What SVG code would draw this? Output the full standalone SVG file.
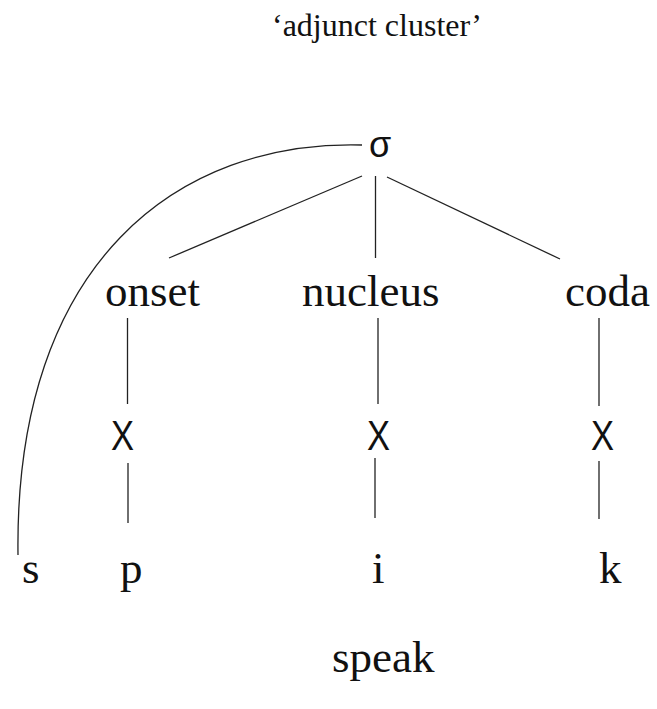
<svg xmlns="http://www.w3.org/2000/svg" width="657" height="709" viewBox="0 0 657 709">
<style>
.serif{font-family:"Liberation Serif","Times New Roman",serif;fill:#111}
.lab{font-size:45px}
.sans{font-family:"Liberation Sans",Arial,sans-serif;fill:#111}
.ln{stroke:#222;stroke-width:1.3;fill:none}
</style>
<rect width="657" height="709" fill="#fff"/>
<text id="title" class="serif" x="377" y="36" font-size="32" text-anchor="middle">‘adjunct cluster’</text>
<g id="connectors">
<path class="ln" d="M362,145 C180,140 14,260 18,555"/>
<line class="ln" x1="362" y1="176" x2="169" y2="258"/>
<line class="ln" x1="375.5" y1="176" x2="375.5" y2="258"/>
<line class="ln" x1="387" y1="177" x2="560" y2="259"/>
<line class="ln" x1="127.5" y1="318" x2="127.5" y2="404"/>
<line class="ln" x1="378" y1="318" x2="378" y2="404"/>
<line class="ln" x1="599" y1="318" x2="599" y2="406"/>
<line class="ln" x1="128" y1="463" x2="128" y2="523"/>
<line class="ln" x1="375" y1="458" x2="375" y2="518"/>
<line class="ln" x1="599" y1="461" x2="599" y2="519"/>
</g>
<g id="sigma"><text class="sans" x="380" y="157" font-size="36" text-anchor="middle">σ</text></g>
<g id="onset"><text class="serif lab" x="105" y="306">onset</text></g>
<g id="nucleus"><text class="serif lab" x="302" y="306">nucleus</text></g>
<g id="coda"><text class="serif lab" x="565" y="306">coda</text></g>
<g id="x1"><text class="sans" x="122.5" y="450" font-size="42" text-anchor="middle" textLength="23" lengthAdjust="spacingAndGlyphs">X</text></g>
<g id="x2"><text class="sans" x="378.5" y="450" font-size="42" text-anchor="middle" textLength="23" lengthAdjust="spacingAndGlyphs">X</text></g>
<g id="x3"><text class="sans" x="602.5" y="450" font-size="42" text-anchor="middle" textLength="23" lengthAdjust="spacingAndGlyphs">X</text></g>
<g id="s"><text class="serif lab" x="22" y="583">s</text></g>
<g id="p"><text class="serif lab" x="120" y="583">p</text></g>
<g id="i"><text class="serif lab" x="372" y="583">i</text></g>
<g id="k"><text class="serif lab" x="599" y="583">k</text></g>
<g id="speak"><text class="serif lab" x="332" y="672">speak</text></g>
</svg>
